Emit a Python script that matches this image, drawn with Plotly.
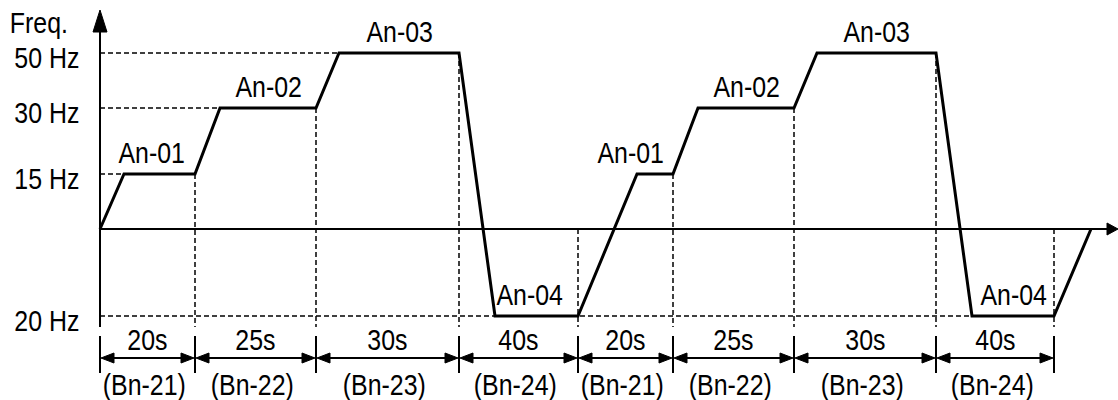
import plotly.graph_objects as go
from itertools import accumulate

# ---- data (schematic units) ----
seg_time_labels = ["20s", "25s", "30s", "40s", "20s", "25s", "30s", "40s"]
seg_param_labels = ["(Bn-21)", "(Bn-22)", "(Bn-23)", "(Bn-24)",
                    "(Bn-21)", "(Bn-22)", "(Bn-23)", "(Bn-24)"]
seg_widths = [95, 121, 143, 119, 95, 121, 142, 118]          # drawn width of each step
step_labels = ["An-01", "An-02", "An-03", "An-04", "An-01", "An-02", "An-03", "An-04"]
step_levels = [55, 121, 176, -87, 55, 121, 176, -87]          # drawn height of each step
ramp_widths = [24, 25, 23, 36, 59, 25, 23, 36]                # accel/decel portion
final_ramp_width = 37
freq_tick_labels = ["50 Hz", "30 Hz", "15 Hz", "20 Hz"]
freq_tick_levels = [176, 121, 55, -87]
axis_title = "Freq."

# ---- style ----
FONT = "Liberation Sans, Arial, sans-serif"
FS = 29
BLACK = "#000"
DASH = "5px,3px"

bounds = [0] + list(accumulate(seg_widths))

# waveform
wx, wy = [0], [0]
for i, lvl in enumerate(step_levels):
    wx += [bounds[i] + ramp_widths[i], bounds[i + 1]]
    wy += [lvl, lvl]
wx.append(bounds[-1] + final_ramp_width)
wy.append(0)

fig = go.Figure()
fig.add_trace(go.Scatter(x=wx, y=wy, mode="lines",
                         line=dict(color=BLACK, width=3),
                         hoverinfo="skip", showlegend=False))

shapes = []
annotations = []

Y_TOP = 219          # y-axis arrow tip
Y_AX_BOT = -98       # bottom of y-axis line / dashed verticals
X_TIP = 1018
TICK_TOP, TICK_BOT = -107, -144
DIM_Y = -129

def line(x0, y0, x1, y1, width=2, dash=None):
    d = dict(type="line", x0=x0, y0=y0, x1=x1, y1=y1, xref="x", yref="y",
             line=dict(color=BLACK, width=width))
    if dash:
        d["line"]["dash"] = dash
    shapes.append(d)

def head(tx, ty, dx, dy, length, half):
    # triangle with tip at (tx,ty) pointing along (dx,dy)
    bx, by = tx - dx * length, ty - dy * length
    px, py = -dy * half, dx * half
    shapes.append(dict(type="path", xref="x", yref="y",
                       path=f"M{bx+px},{by+py} L{tx},{ty} L{bx-px},{by-py} Z",
                       fillcolor=BLACK, line=dict(color=BLACK, width=1)))

def text(x, y, s, xshift=0):
    annotations.append(dict(x=x, y=y, text=s, showarrow=False,
                            xanchor="center", yanchor="middle", xshift=xshift,
                            font=dict(family=FONT, size=FS, color=BLACK)))

# axes
line(0, Y_AX_BOT, 0, Y_TOP - 20, width=2)
head(0, Y_TOP, 0, 1, 22, 7)
line(0, 0, X_TIP - 10, 0, width=2)
head(X_TIP, 0, 1, 0, 11, 6)

# horizontal dashed reference lines
seen = set()
for i, lvl in enumerate(step_levels):
    if lvl > 0 and lvl not in seen:
        seen.add(lvl)
        line(0, lvl, bounds[i] + ramp_widths[i], lvl, width=1.5, dash=DASH)
neg = min(step_levels)
line(0, neg, bounds[-1], neg, width=1.5, dash=DASH)

# vertical dashed lines at each boundary
for i in range(1, len(bounds)):
    top = max(step_levels[i - 1], 0)
    line(bounds[i], top, bounds[i], Y_AX_BOT, width=1.5, dash=DASH)

# dimension ticks, arrows and labels
for b in bounds:
    line(b, TICK_TOP, b, TICK_BOT, width=2)
for i in range(len(seg_widths)):
    x0, x1 = bounds[i], bounds[i + 1]
    line(x0 + 8, DIM_Y, x1 - 8, DIM_Y, width=2)
    head(x0 + 1, DIM_Y, -1, 0, 13, 5)
    head(x1 - 1, DIM_Y, 1, 0, 13, 5)
    cx = (x0 + x1) / 2
    text(cx, -111, seg_time_labels[i])
    text(cx, -156, seg_param_labels[i], xshift=-3)

# step labels above plateaus
label_shift = [-8, 0, 0, -7, -25, 0, 0, 0]
for i, lvl in enumerate(step_levels):
    px0 = bounds[i] + ramp_widths[i]
    cx = (px0 + bounds[i + 1]) / 2
    text(cx, lvl + 21, step_labels[i], xshift=label_shift[i])

# frequency tick labels (centered at the label column)
for lab, lvl in zip(freq_tick_labels, freq_tick_levels):
    text(-53, lvl - 5, lab)
text(-61, 206, axis_title)

fig.update_layout(
    width=1118, height=400,
    margin=dict(l=0, r=0, t=0, b=0),
    paper_bgcolor="white", plot_bgcolor="white",
    xaxis=dict(range=[-100, 1018], visible=False, fixedrange=True),
    yaxis=dict(range=[-171, 229], visible=False, fixedrange=True),
    shapes=shapes, annotations=annotations, showlegend=False,
)

# narrow-font look: compress label glyphs horizontally around their centres
post = (
    "document.body.style.margin='0';document.body.style.overflow='hidden';"
    "document.querySelectorAll('text.annotation-text').forEach(function(t){"
    "t.style.transformBox='fill-box';t.style.transformOrigin='center';"
    "t.style.transform='scaleX(0.86)';});"
)
fig.write_html("out.html", config={"displayModeBar": False}, post_script=post)
